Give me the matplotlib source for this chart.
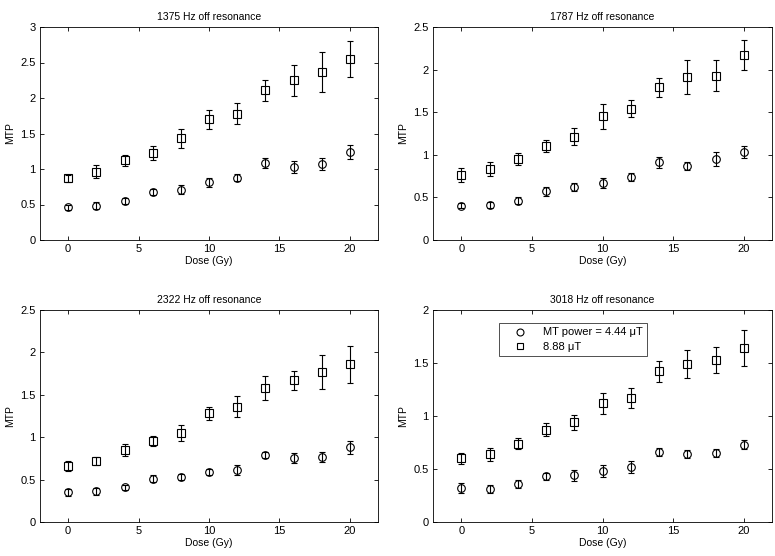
import matplotlib
matplotlib.use("Agg")
import matplotlib.pyplot as plt
import numpy as np

dose = [0, 2, 4, 6, 8, 10, 12, 14, 16, 18, 20]

titles = ["1375 Hz off resonance", "1787 Hz off resonance",
          "2322 Hz off resonance", "3018 Hz off resonance"]
ylims = [3, 2.5, 2.5, 2]
yticks = [[0, 0.5, 1, 1.5, 2, 2.5, 3],
          [0, 0.5, 1, 1.5, 2, 2.5],
          [0, 0.5, 1, 1.5, 2, 2.5],
          [0, 0.5, 1, 1.5, 2]]

# 4.44 uT (circles)
low_1375 = [0.46, 0.48, 0.55, 0.68, 0.71, 0.81, 0.88, 1.09, 1.03, 1.07, 1.24]
low_1375_err = [0.04, 0.05, 0.04, 0.04, 0.06, 0.06, 0.05, 0.07, 0.08, 0.08, 0.10]
low_1787 = [0.40, 0.41, 0.46, 0.57, 0.62, 0.67, 0.74, 0.91, 0.87, 0.95, 1.03]
low_1787_err = [0.03, 0.04, 0.04, 0.05, 0.05, 0.06, 0.05, 0.06, 0.05, 0.08, 0.07]
low_2322 = [0.35, 0.36, 0.41, 0.51, 0.53, 0.59, 0.61, 0.79, 0.75, 0.77, 0.88]
low_2322_err = [0.04, 0.04, 0.03, 0.04, 0.04, 0.04, 0.06, 0.04, 0.06, 0.06, 0.08]
low_3018 = [0.32, 0.31, 0.36, 0.43, 0.44, 0.48, 0.52, 0.66, 0.64, 0.65, 0.73]
low_3018_err = [0.05, 0.04, 0.04, 0.03, 0.05, 0.06, 0.06, 0.04, 0.04, 0.04, 0.04]

# 8.88 uT (squares)
high_1375 = [0.87, 0.96, 1.12, 1.22, 1.43, 1.70, 1.78, 2.11, 2.25, 2.37, 2.55]
high_1375_err = [0.05, 0.09, 0.08, 0.10, 0.14, 0.13, 0.15, 0.15, 0.22, 0.28, 0.25]
high_1787 = [0.76, 0.83, 0.95, 1.10, 1.21, 1.45, 1.54, 1.79, 1.91, 1.93, 2.17]
high_1787_err = [0.08, 0.08, 0.07, 0.07, 0.10, 0.15, 0.10, 0.11, 0.20, 0.18, 0.18]
high_2322 = [0.66, 0.72, 0.85, 0.96, 1.05, 1.28, 1.36, 1.58, 1.67, 1.77, 1.86]
high_2322_err = [0.06, 0.05, 0.07, 0.06, 0.09, 0.08, 0.12, 0.14, 0.11, 0.20, 0.22]
high_3018 = [0.60, 0.64, 0.74, 0.87, 0.94, 1.12, 1.17, 1.42, 1.49, 1.53, 1.64]
high_3018_err = [0.05, 0.06, 0.05, 0.06, 0.07, 0.10, 0.09, 0.10, 0.13, 0.12, 0.17]

lows = [low_1375, low_1787, low_2322, low_3018]
low_errs = [low_1375_err, low_1787_err, low_2322_err, low_3018_err]
highs = [high_1375, high_1787, high_2322, high_3018]
high_errs = [high_1375_err, high_1787_err, high_2322_err, high_3018_err]

plt.rcParams['font.family'] = ['Liberation Sans', 'DejaVu Sans']

fig = plt.figure(figsize=(7.75, 5.56), dpi=100)
W, H = 775, 556
boxes = [(40, 27, 378, 240), (433, 27, 772, 240),
         (40, 310, 378, 522), (433, 310, 772, 522)]

for i in range(4):
    x0, y0, x1, y1 = boxes[i]
    ax = fig.add_axes([x0 / W, 1 - y1 / H, (x1 - x0) / W, (y1 - y0) / H])
    hc = ax.errorbar(dose, lows[i], yerr=low_errs[i], fmt='o', mfc='none', mec='black',
                     ecolor='black', ms=5.5, mew=0.8, elinewidth=0.8, capsize=2.5,
                     capthick=0.8, label='MT power = 4.44 \u03bcT')
    hs = ax.errorbar(dose, highs[i], yerr=high_errs[i], fmt='s', mfc='none', mec='black',
                     ecolor='black', ms=6, mew=0.8, elinewidth=0.8, capsize=2.5,
                     capthick=0.8, label='8.88 \u03bcT')
    ax.set_xlim(-2, 22)
    ax.set_ylim(0, ylims[i])
    ax.set_xticks([0, 5, 10, 15, 20])
    ax.set_yticks(yticks[i])
    ax.set_yticklabels([('%g' % v) for v in yticks[i]])
    ax.tick_params(direction='in', top=True, right=True, labelsize=8, length=3, width=0.6, pad=3)
    for s in ax.spines.values():
        s.set_linewidth(0.6)
    ax.set_title(titles[i], fontsize=7.5, pad=5)
    ax.set_xlabel('Dose (Gy)', fontsize=7.5, labelpad=1)
    ax.set_ylabel('MTP', fontsize=7.5, labelpad=4)
    if i == 3:
        leg = ax.legend(handles=[hc[0], hs[0]],
                        labels=['MT power = 4.44 \u03bcT', '8.88 \u03bcT'],
                        loc='upper left', bbox_to_anchor=(0.177, 0.965), fontsize=8,
                        frameon=True, fancybox=False, edgecolor='black',
                        handlelength=3, borderpad=0.4, labelspacing=0.4, handletextpad=0.6)
        leg.get_frame().set_linewidth(0.6)
        for h in leg.legend_handles:
            h.set_markersize(5)

fig.savefig('out.png', dpi=100, facecolor='white')
